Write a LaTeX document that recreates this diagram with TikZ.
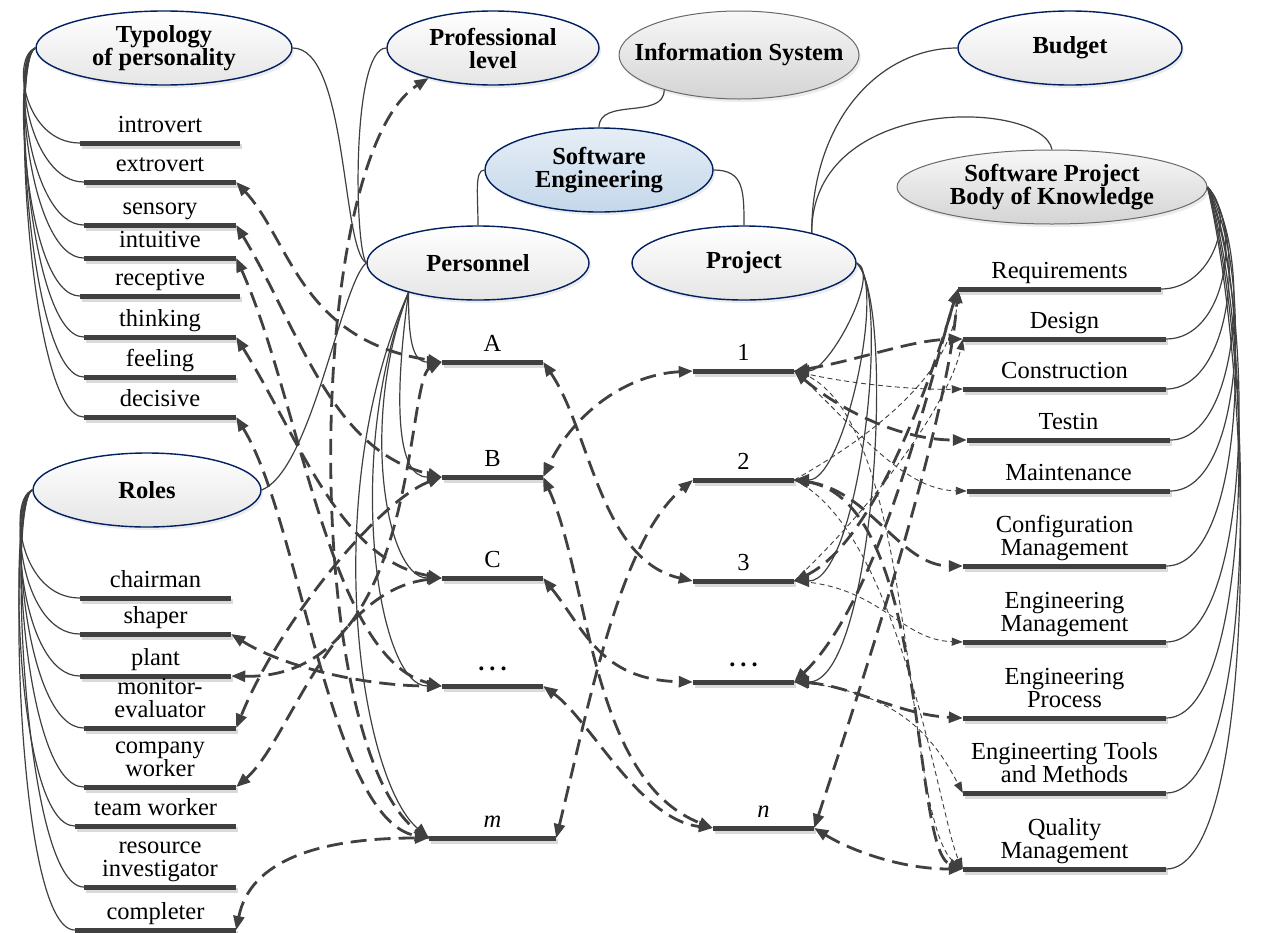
\documentclass[tikz,border=0pt]{standalone}
\usepackage{fontspec}
\setmainfont{Liberation Serif}
\usepackage{tikz}
\usetikzlibrary{arrows.meta,shapes.geometric,shadows}
\definecolor{darkgrey}{RGB}{64,64,64}
\definecolor{navy}{RGB}{0,32,96}
\definecolor{greyline}{RGB}{105,105,105}
\definecolor{shadowgrey}{RGB}{218,218,218}
\definecolor{lightblue}{RGB}{230,238,246}
\definecolor{blue2}{RGB}{196,215,234}
\newcommand{\bigdots}{\raisebox{5pt}{\textbf{.\hspace{5pt}.\hspace{5pt}.}}}
\tikzset{
  topic/.style={ellipse, draw=navy, line width=1.4pt, top color=white, bottom color=black!10,
    drop shadow={shadow xshift=2pt, shadow yshift=-3pt, fill=shadowgrey},
    inner xsep=-25pt, inner ysep=-10pt, align=center, font=\fontsize{24.5}{23}\selectfont\bfseries},
  greytopic/.style={topic, draw=greyline, line width=1pt, top color=black!3, bottom color=black!17},
  bluetopic/.style={topic, top color=lightblue, bottom color=blue2},
  barline/.style={draw=darkgrey, line width=5pt},
  barshadow/.style={draw=shadowgrey, line width=5pt},
  itembar/.style={anchor=south, minimum width=#1, inner xsep=0pt, inner ysep=5pt, text depth=5pt, align=center,
    append after command={([shift={(2pt,-3pt)}]\tikzlastnode.south west) edge[barshadow] ([shift={(2pt,-3pt)}]\tikzlastnode.south east)
      (\tikzlastnode.south west) edge[barline] (\tikzlastnode.south east)}},
  tree/.style={draw=darkgrey, line width=1.2pt},
  branch/.style={tree, arrows={-Triangle[length=15pt,width=12pt]}},
  link/.style={draw=darkgrey, line width=2.8pt, dash pattern=on 16pt off 8pt,
    arrows={Triangle[length=14pt,width=11pt]-Triangle[length=14pt,width=11pt]}},
  onelink/.style={link, arrows={-Triangle[length=14pt,width=11pt]}},
  hint/.style={draw=darkgrey, line width=0.9pt, dash pattern=on 5pt off 3.5pt,
    arrows={-Triangle[length=11pt,width=8pt]}}
}

\begin{document}
\begin{tikzpicture}[x=1pt, y=1pt, font=\fontsize{24.5}{23}\selectfont]
\useasboundingbox[fill=white] (0,0) rectangle (1266,-932);

\node[topic, minimum width=256pt, minimum height=74pt] (typ) at (164,-48) {Typology\\of personality};
\node[topic, minimum width=212pt, minimum height=74pt] (prof) at (493,-48) {Professional\\level};
\node[greytopic, minimum width=240pt, minimum height=88pt] (info) at (739,-55) {Information System};
\node[bluetopic, minimum width=228pt, minimum height=84pt] (soft) at (599,-170) {Software\\Engineering};
\node[topic, minimum width=222pt, minimum height=74pt] (pers) at (478,-263) {Personnel};
\node[topic, minimum width=224pt, minimum height=74pt] (proj) at (744,-263) {Project};
\node[topic, minimum width=224pt, minimum height=74pt] (budget) at (1070,-48) {Budget};
\node[greytopic, minimum width=310pt, minimum height=74pt] (spbok) at (1052,-187) {Software Project\\Body of Knowledge};
\node[topic, minimum width=228pt, minimum height=74pt] (roles) at (147,-490) {Roles};

\node[itembar=160pt] (intro) at (160,-143) {introvert};
\node[itembar=152pt] (ext) at (160,-182) {extrovert};
\node[itembar=152pt] (sens) at (160,-225) {sensory};
\node[itembar=152pt] (intu) at (160,-258) {intuitive};
\node[itembar=160pt] (recep) at (160,-296) {receptive};
\node[itembar=152pt] (think) at (160,-337) {thinking};
\node[itembar=152pt] (feel) at (160,-377) {feeling};
\node[itembar=152pt] (decis) at (160,-417) {decisive};

\node[itembar=151pt] (chair) at (155.5,-598) {chairman};
\node[itembar=151pt] (shap) at (155.5,-634) {shaper};
\node[itembar=151pt] (plant) at (155.5,-676) {plant};
\node[itembar=152pt] (mon) at (160,-728) {monitor-\\evaluator};
\node[itembar=152pt] (comp) at (160,-787) {company\\worker};
\node[itembar=161pt] (team) at (155.5,-826) {team worker};
\node[itembar=152pt] (res) at (160,-887) {resource\\investigator};
\node[itembar=161pt] (compl) at (155.5,-930) {completer};

\node[itembar=101pt] (A) at (492.5,-362) {A};
\node[itembar=101pt] (B) at (492.5,-477) {B};
\node[itembar=101pt] (C) at (492.5,-578) {C};
\node[itembar=101pt] (dots) at (492.5,-686) {\bigdots};
\node[itembar=127pt] (m) at (492.5,-838) {\textit{m}};

\node[itembar=101pt] (one) at (743.5,-371) {1};
\node[itembar=101pt] (two) at (743.5,-480) {2};
\node[itembar=101pt] (three) at (743.5,-581) {3};
\node[itembar=101pt] (dots2) at (743.5,-682) {\bigdots};
\node[itembar=101pt] (n) at (763.5,-828) {\textit{n}};

\node[itembar=203pt] (req) at (1059.5,-289) {Requirements};
\node[itembar=203pt] (des) at (1064.5,-339) {Design};
\node[itembar=203pt] (cons) at (1064.5,-389) {Construction};
\node[itembar=203pt] (test) at (1068.5,-440) {Testin};
\node[itembar=203pt] (mnt) at (1068.5,-491) {Maintenance};
\node[itembar=203pt] (cm) at (1064.5,-566) {Configuration\\Management};
\node[itembar=203pt] (em) at (1064.5,-642) {Engineering\\Management};
\node[itembar=203pt] (ep) at (1064.5,-718) {Engineering\\Process};
\node[itembar=203pt] (et) at (1064.5,-793) {Engineerting Tools\\and Methods};
\node[itembar=203pt] (qm) at (1064.5,-869) {Quality\\Management};

\draw[tree] (typ.west) .. controls +(-25,-10) and +(-55,0) .. (intro.south west);
\draw[tree] (typ.west) .. controls +(-25,-10) and +(-55,0) .. (ext.south west);
\draw[tree] (typ.west) .. controls +(-25,-10) and +(-55,0) .. (sens.south west);
\draw[tree] (typ.west) .. controls +(-25,-10) and +(-55,0) .. (intu.south west);
\draw[tree] (typ.west) .. controls +(-25,-10) and +(-55,0) .. (recep.south west);
\draw[tree] (typ.west) .. controls +(-25,-10) and +(-55,0) .. (think.south west);
\draw[tree] (typ.west) .. controls +(-25,-10) and +(-55,0) .. (feel.south west);
\draw[tree] (typ.west) .. controls +(-25,-10) and +(-55,0) .. (decis.south west);

\draw[tree] (roles.west) .. controls +(-25,-10) and +(-60,0) .. (chair.south west);
\draw[tree] (roles.west) .. controls +(-25,-10) and +(-60,0) .. (shap.south west);
\draw[tree] (roles.west) .. controls +(-25,-10) and +(-60,0) .. (plant.south west);
\draw[tree] (roles.west) .. controls +(-25,-10) and +(-60,0) .. (mon.south west);
\draw[tree] (roles.west) .. controls +(-25,-10) and +(-60,0) .. (comp.south west);
\draw[tree] (roles.west) .. controls +(-25,-10) and +(-60,0) .. (team.south west);
\draw[tree] (roles.west) .. controls +(-25,-10) and +(-60,0) .. (res.south west);
\draw[tree] (roles.west) .. controls +(-25,-10) and +(-60,0) .. (compl.south west);

\draw[tree] (typ.east) .. controls +(55,0) and +(-25,15) .. (pers.west);
\draw[tree] (prof.west) .. controls +(-35,0) and +(-12,15) .. (pers.west);
\draw[tree] (roles.east) .. controls +(50,20) and +(-25,-20) .. (pers.west);
\draw[tree] (info.205) .. controls +(0,-30) and +(0,30) .. (soft.north);
\draw[tree] (soft.west) .. controls +(-10,0) and +(0,30) .. (pers.north);
\draw[tree] (soft.east) .. controls +(30,0) and +(0,35) .. (proj.north);
\draw[tree] (proj.24) .. controls +(0,110) and +(-80,0) .. (budget.west);
\draw[tree] (proj.24) .. controls +(0,140) and +(-10,50) .. (spbok.north);

\draw[tree] (spbok.east) .. controls +(30,-30) and +(50,0) .. (req.south east);
\draw[tree] (spbok.east) .. controls +(35,-40) and +(60,0) .. (des.south east);
\draw[tree] (spbok.east) .. controls +(40,-50) and +(65,0) .. (cons.south east);
\draw[tree] (spbok.east) .. controls +(45,-60) and +(70,0) .. (test.south east);
\draw[tree] (spbok.east) .. controls +(45,-80) and +(75,0) .. (mnt.south east);
\draw[tree] (spbok.east) .. controls +(45,-100) and +(80,0) .. (cm.south east);
\draw[tree] (spbok.east) .. controls +(50,-130) and +(85,0) .. (em.south east);
\draw[tree] (spbok.east) .. controls +(50,-160) and +(85,0) .. (ep.south east);
\draw[tree] (spbok.east) .. controls +(50,-190) and +(90,0) .. (et.south east);
\draw[tree] (spbok.east) .. controls +(50,-220) and +(90,0) .. (qm.south east);

\draw[branch] (pers.203) .. controls +(0,-45) and +(-30,0) .. (A.south west);
\draw[branch] (pers.203) .. controls +(-15,-110) and +(-45,0) .. (B.south west);
\draw[branch] (pers.203) .. controls +(-50,-130) and +(-55,0) .. (C.south west);
\draw[branch] (pers.203) .. controls +(-65,-160) and +(-65,0) .. (dots.south west);
\draw[branch] (pers.203) .. controls +(-90,-200) and +(-70,60) .. (m.south west);

\draw[branch] (proj.east) .. controls +(25,-10) and +(35,0) .. (one.south east);
\draw[branch] (proj.east) .. controls +(30,-20) and +(50,0) .. (two.south east);
\draw[branch] (proj.east) .. controls +(35,-30) and +(65,0) .. (three.south east);
\draw[branch] (proj.east) .. controls +(40,-40) and +(80,0) .. (dots2.south east);

\draw[link] (ext.south east) .. controls (290,-240) and (300,-340) .. (A.south west);
\draw[link] (sens.south east) .. controls (300,-330) and (330,-450) .. (B.south west);
\draw[link] (intu.south east) .. controls (300,-400) and (330,-660) .. (dots.south west);
\draw[link] (think.south east) .. controls (300,-440) and (340,-560) .. (C.south west);
\draw[link] (decis.south east) .. controls (300,-520) and (330,-820) .. (m.south west);
\draw[onelink] (m.south west) .. controls (300,-780) and (300,-160) .. (prof.205);
\draw[link] (plant.south east) .. controls (420,-680) and (405,-380) .. (A.south west);
\draw[link] (B.south west) .. controls (380,-500) and (280,-620) .. (mon.south east);
\draw[link] (C.south west) .. controls (330,-590) and (290,-740) .. (comp.south east);
\draw[link] (shap.south east) .. controls (280,-665) and (360,-686) .. (dots.south west);
\draw[link] (compl.south east) .. controls (250,-860) and (320,-838) .. (m.south west);

\draw[link] (A.south east) .. controls (590,-430) and (600,-560) .. (three.south west);
\draw[link] (one.south west) .. controls (620,-375) and (570,-420) .. (B.south east);
\draw[link] (B.south east) .. controls (590,-580) and (590,-780) .. (n.south west);
\draw[link] (C.south east) .. controls (585,-630) and (600,-680) .. (dots2.south west);
\draw[link] (dots.south east) .. controls (590,-720) and (640,-820) .. (n.south west);
\draw[link] (m.south east) .. controls (590,-700) and (620,-540) .. (two.south west);

\draw[link] (one.south east) .. controls (860,-360) and (910,-340) .. (des.south west);
\draw[link] (one.south east) .. controls (840,-410) and (900,-440) .. (test.south west);
\draw[link] (two.south east) .. controls (870,-490) and (900,-566) .. (cm.south west);
\draw[link] (three.south east) .. controls (880,-540) and (940,-350) .. (req.south west);
\draw[link] (dots2.south east) .. controls (880,-600) and (930,-380) .. (req.south west);
\draw[link] (n.south east) .. controls (890,-600) and (950,-400) .. (req.south west);
\draw[link] (dots2.south east) .. controls (850,-685) and (900,-715) .. (ep.south west);
\draw[link] (n.south east) .. controls (850,-850) and (900,-869) .. (qm.south west);
\draw[link] (two.south east) .. controls (930,-500) and (910,-850) .. (qm.south west);

\draw[hint] (one.south east) .. controls (850,-385) and (920,-390) .. (cons.south west);
\draw[hint] (one.south east) .. controls (850,-420) and (900,-490) .. (mnt.south west);
\draw[hint] (two.south east) .. controls (900,-420) and (955,-360) .. (req.south west);
\draw[hint] (three.south east) .. controls (880,-500) and (950,-400) .. (des.south west);
\draw[hint] (three.south east) .. controls (880,-585) and (900,-640) .. (em.south west);
\draw[hint] (dots2.south east) .. controls (900,-690) and (935,-740) .. (et.south west);
\draw[hint] (one.south east) .. controls (920,-400) and (900,-820) .. (qm.south west);
\draw[hint] (two.south east) .. controls (900,-530) and (940,-820) .. (qm.south west);
\end{tikzpicture}
\end{document}
